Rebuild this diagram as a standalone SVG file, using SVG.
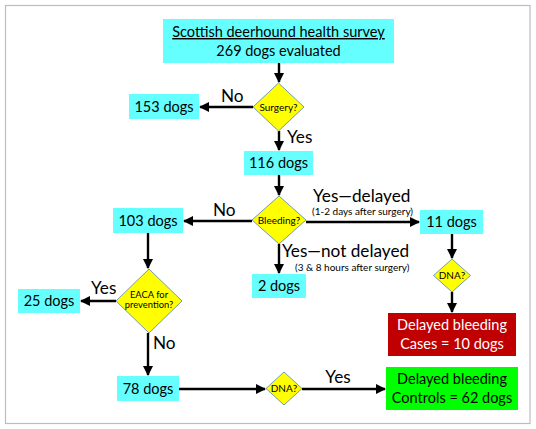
<svg xmlns="http://www.w3.org/2000/svg" width="536" height="429" viewBox="0 0 536 429">
<defs>
<marker id="ah" viewBox="0 0 10 10" refX="9" refY="5" markerWidth="4.2" markerHeight="4.2" orient="auto" markerUnits="strokeWidth">
<path d="M0,0 L10,5 L0,10 z" fill="#000"/>
</marker>
</defs>
<style>
text{font-family:Lato,"Open Sans","DejaVu Sans",sans-serif;fill:#000}
.box{fill:#66ffff}
.dia{fill:#ffff00;stroke:#4f81bd;stroke-width:0.8}
.t{font-size:14.5px;text-anchor:middle}
.d{font-size:10px;text-anchor:middle}
.d2{font-size:9.4px;text-anchor:middle}
.lab{font-size:17.2px}
.sm{font-size:10px}
.c line{stroke:#000;stroke-width:2.4;marker-end:url(#ah)}
</style>
<rect x="5.5" y="5.5" width="524.5" height="418" fill="#fff" stroke="#bdbdbd" stroke-width="1.2"/>
<g class="c" id="connectors">
<line x1="279" y1="63" x2="279" y2="82"/>
<line x1="253" y1="107" x2="200" y2="107"/>
<line x1="279" y1="131" x2="279" y2="150"/>
<line x1="279" y1="175" x2="279" y2="195"/>
<line x1="252" y1="221" x2="184" y2="221"/>
<line x1="306" y1="222" x2="419" y2="222"/>
<line x1="279" y1="244" x2="279" y2="273"/>
<line x1="452" y1="234" x2="452" y2="258"/>
<line x1="452" y1="292" x2="452" y2="312"/>
<line x1="148" y1="233" x2="148" y2="268"/>
<line x1="116" y1="301" x2="81" y2="301"/>
<line x1="148" y1="333" x2="148" y2="375"/>
<line x1="179" y1="389" x2="265" y2="389"/>
<line x1="302" y1="389" x2="385" y2="389"/>
<text class="lab" x="221" y="102">No</text>
<text class="lab" x="287" y="143">Yes</text>
<text class="lab" x="213" y="216">No</text>
<text class="lab" x="313" y="202">Yes—delayed</text>
<text class="sm" x="312" y="215">(1-2 days after surgery)</text>
<text class="lab" x="282" y="257">Yes—not delayed</text>
<text class="sm" x="295" y="271">(3 &amp; 8 hours after surgery)</text>
<text class="lab" x="91" y="294">Yes</text>
<text class="lab" x="153" y="349">No</text>
<text class="lab" x="338" y="383" text-anchor="middle">Yes</text>
</g>
<g id="n-title">
<rect class="box" x="163" y="19" width="231" height="44"/>
<text class="t" x="278.5" y="37" text-decoration="underline">Scottish deerhound health survey</text>
<text class="t" x="278.5" y="56">269 dogs evaluated</text>
</g>
<g id="n-surgery">
<polygon class="dia" points="278.5,83 304,107 278.5,131 253,107"/>
<text class="d" x="278.5" y="110.5">Surgery?</text>
</g>
<g id="n-153">
<rect class="box" x="129" y="94" width="70" height="25"/>
<text class="t" x="164" y="112">153 dogs</text>
</g>
<g id="n-116">
<rect class="box" x="244" y="151" width="69" height="24"/>
<text class="t" x="278.5" y="168">116 dogs</text>
</g>
<g id="n-bleeding">
<polygon class="dia" points="279,196 306,220 279,244 252,220"/>
<text class="d" x="279" y="224">Bleeding?</text>
</g>
<g id="n-103">
<rect class="box" x="113" y="208" width="70" height="25"/>
<text class="t" x="148" y="226">103 dogs</text>
</g>
<g id="n-11">
<rect class="box" x="420" y="210" width="63" height="24"/>
<text class="t" x="451.5" y="227">11 dogs</text>
</g>
<g id="n-2">
<rect class="box" x="252" y="274" width="54" height="24"/>
<text class="t" x="279" y="291">2 dogs</text>
</g>
<g id="n-dna1">
<polygon class="dia" points="452,259 470.5,275.5 452,292 433.5,275.5"/>
<text class="d" x="452" y="279">DNA?</text>
</g>
<g id="n-cases">
<rect x="388" y="313" width="128" height="43" fill="#c00000"/>
<text class="t" x="452" y="330" style="fill:#fff">Delayed bleeding</text>
<text class="t" x="452" y="348.5" style="fill:#fff">Cases = 10 dogs</text>
</g>
<g id="n-eaca">
<polygon class="dia" points="149,269 182,301 149,333 116,301"/>
<text class="d2" x="149" y="298">EACA for</text>
<text class="d2" x="149" y="307.5">prevention?</text>
</g>
<g id="n-25">
<rect class="box" x="18" y="289" width="62" height="24"/>
<text class="t" x="49" y="306">25 dogs</text>
</g>
<g id="n-78">
<rect class="box" x="117" y="376" width="62" height="25"/>
<text class="t" x="148" y="394">78 dogs</text>
</g>
<g id="n-dna2">
<polygon class="dia" points="284,372 302,388.5 284,405 266,388.5"/>
<text class="d" x="284" y="392">DNA?</text>
</g>
<g id="n-controls">
<rect x="386" y="367" width="132" height="43" fill="#00ff00"/>
<text class="t" x="452" y="384">Delayed bleeding</text>
<text class="t" x="452" y="403">Controls = 62 dogs</text>
</g>
</svg>
